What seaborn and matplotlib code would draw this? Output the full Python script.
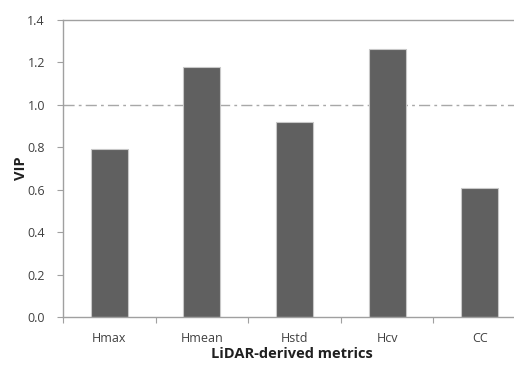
import matplotlib
matplotlib.use("Agg")
import matplotlib.pyplot as plt
import seaborn as sns
import pandas as pd

metrics = ["Hmax", "Hmean", "Hstd", "Hcv", "CC"]
vip = [0.79, 1.18, 0.92, 1.265, 0.61]
threshold = 1.0
yticks = [0.0, 0.2, 0.4, 0.6, 0.8, 1.0, 1.2, 1.4]

df = pd.DataFrame({"metric": metrics, "vip": vip})

sns.set_style("white")
plt.rcParams["font.family"] = ["Open Sans", "DejaVu Sans"]

fig = plt.figure(figsize=(5.14, 3.65), dpi=100)
ax = fig.add_axes([63 / 514, 1 - 317 / 365, 463 / 514, 297 / 365])

sns.barplot(data=df, x="metric", y="vip", ax=ax, color="#606060",
            width=0.4, edgecolor="#c8c8c8", linewidth=0.8, saturation=1)

ax.axhline(threshold, color="#a8a8a8", linestyle=(0, (8, 3, 2, 3)), linewidth=1.0, zorder=0)

ax.set_ylim(0, 1.4)
ax.set_xlim(-0.5, len(metrics) - 0.5)
ax.set_yticks(yticks)
ax.set_yticklabels([f"{t:.1f}" for t in yticks])

# category boundaries carry the x tick marks
ax.set_xticks([i - 0.5 for i in range(len(metrics) + 1)], minor=False)
ax.set_xticklabels([])
ax.set_xticks(range(len(metrics)), minor=True)
ax.set_xticklabels(metrics, minor=True)
ax.tick_params(axis="x", which="major", direction="out", length=4, width=0.8, color="#a0a0a0", bottom=True)
ax.tick_params(axis="x", which="minor", length=0, pad=11, labelsize=9, labelcolor="#404040")
ax.tick_params(axis="y", direction="out", length=4, width=0.8, color="#a0a0a0", left=True,
               labelsize=9, labelcolor="#404040", pad=9)

for side in ["left", "top", "bottom", "right"]:
    ax.spines[side].set_color("#a0a0a0")
    ax.spines[side].set_linewidth(1.0)

ax.set_xlabel("LiDAR-derived metrics", fontsize=10.5, fontweight="bold", color="#202020")
ax.xaxis.set_label_coords(0.495, -0.102)
ax.set_ylabel("VIP", fontsize=10.5, fontweight="bold", color="#202020")
ax.yaxis.set_label_coords(-0.076, 0.5)

fig.savefig("out.png", dpi=100)
